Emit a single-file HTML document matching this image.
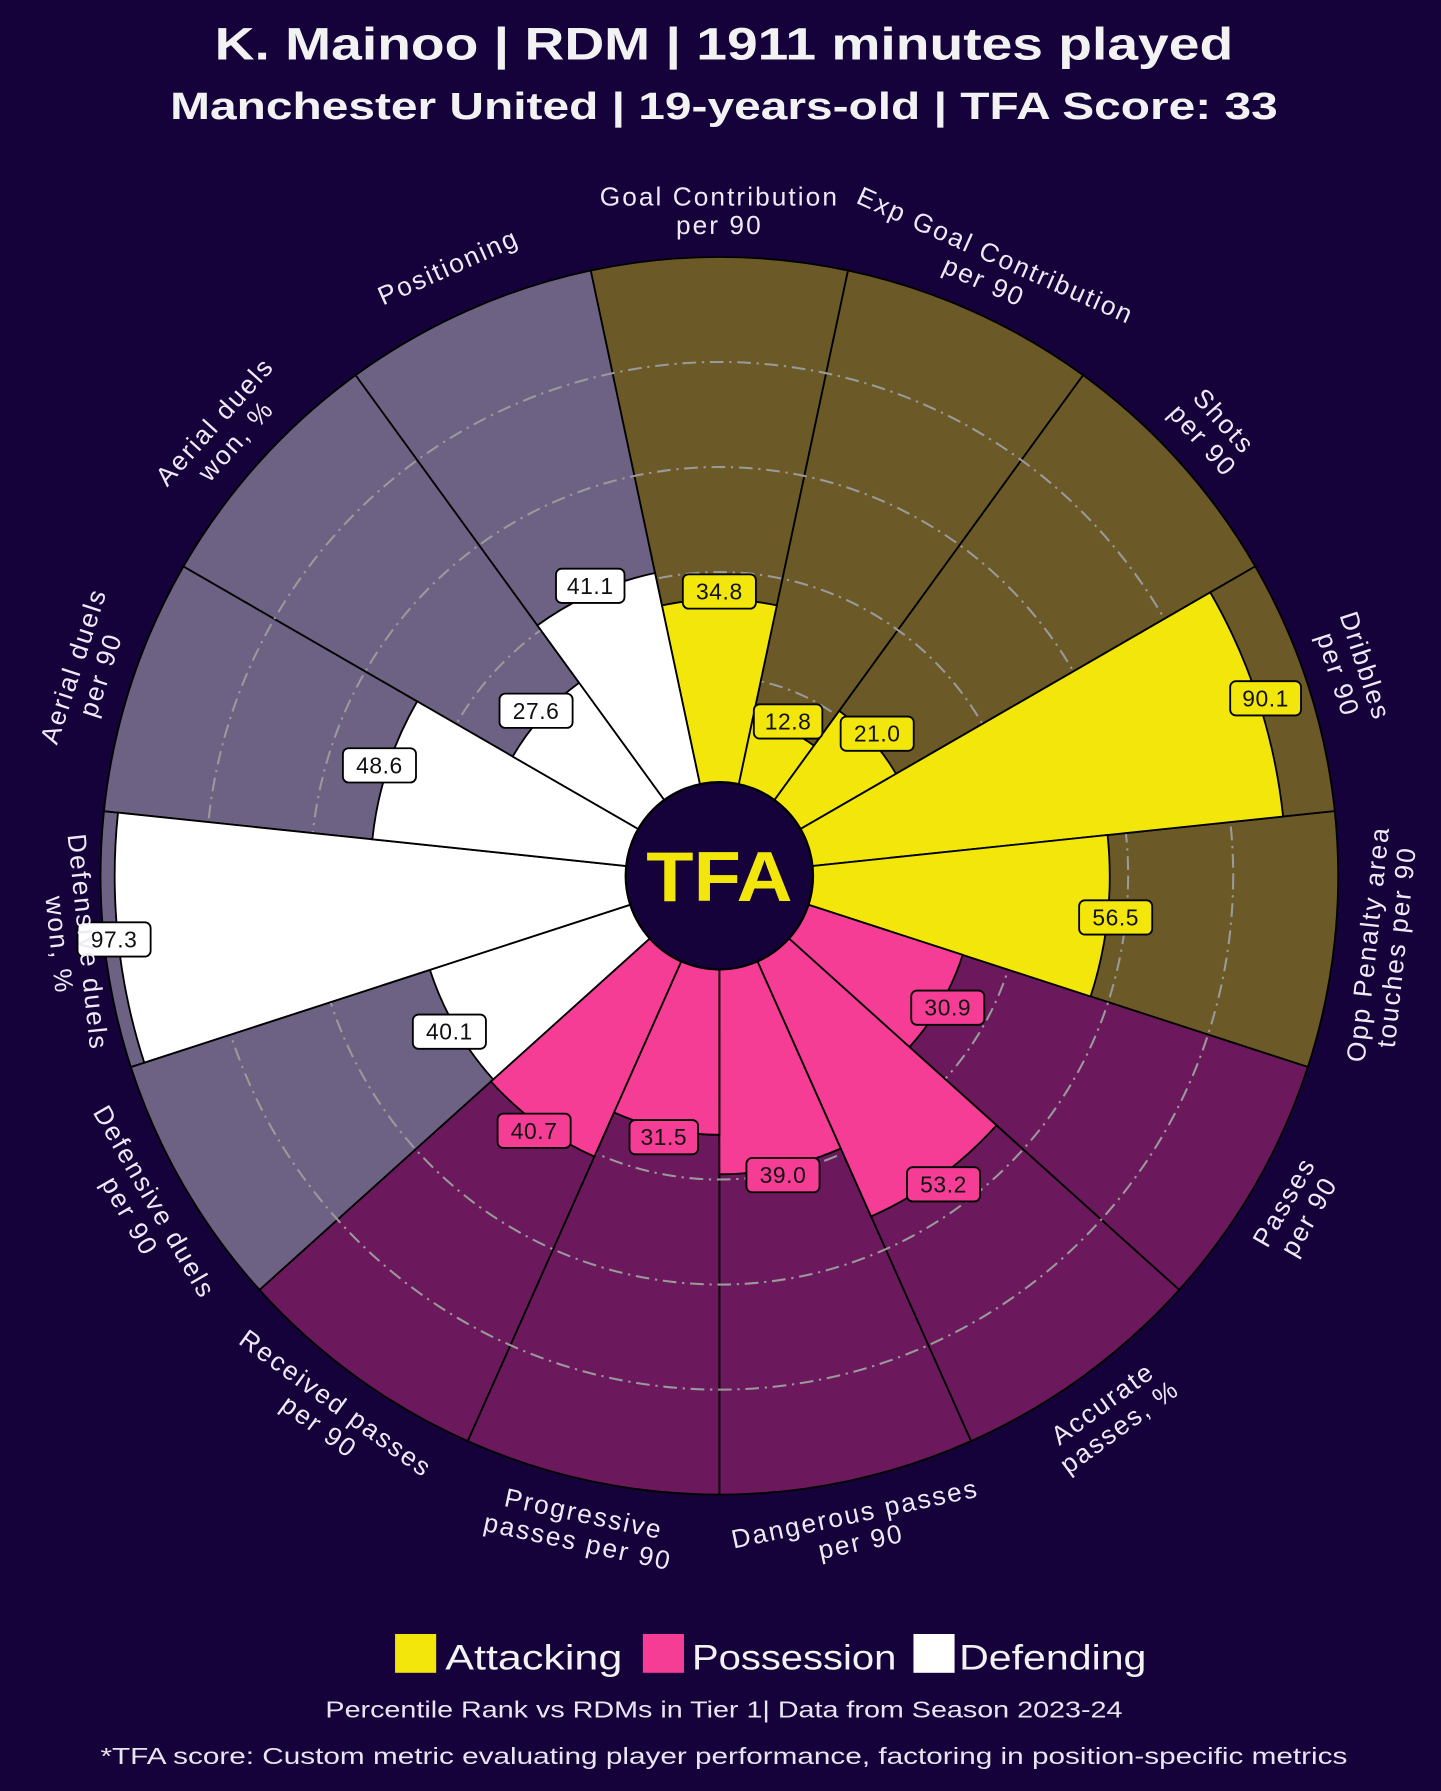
<!DOCTYPE html>
<html><head><meta charset="utf-8"><style>
html,body{margin:0;padding:0;background:#16023b;}
svg{display:block;}
text{font-family:"Liberation Sans",sans-serif;}
</style></head><body>
<svg width="1441" height="1791" viewBox="0 0 1262 1568.5" xmlns="http://www.w3.org/2000/svg">
<rect x="0" y="0" width="1262" height="1568.5" fill="#16023b"/>
<text x="634" y="52" text-anchor="middle" font-size="40" font-weight="bold" fill="#f2f2f2" textLength="892" lengthAdjust="spacingAndGlyphs">K. Mainoo | RDM | 1911 minutes played</text>
<text x="634" y="104" text-anchor="middle" font-size="33" font-weight="bold" fill="#f2f2f2" textLength="970" lengthAdjust="spacingAndGlyphs">Manchester United | 19-years-old | TFA Score: 33</text>

<g transform="translate(630,767)">
<g stroke="#000" stroke-width="1.6">
<path d="M0 0 L-112.7 -530.1 A542 542 0 0 1 112.7 -530.1 Z" fill="#6b5a28"/>
<path d="M0 0 L-112.7 -530.1 A542 542 0 0 1 112.7 -530.1 Z" fill="#6b5a28" transform="rotate(24)"/>
<path d="M0 0 L-112.7 -530.1 A542 542 0 0 1 112.7 -530.1 Z" fill="#6b5a28" transform="rotate(48)"/>
<path d="M0 0 L-112.7 -530.1 A542 542 0 0 1 112.7 -530.1 Z" fill="#6b5a28" transform="rotate(72)"/>
<path d="M0 0 L-112.7 -530.1 A542 542 0 0 1 112.7 -530.1 Z" fill="#6b5a28" transform="rotate(96)"/>
<path d="M0 0 L-112.7 -530.1 A542 542 0 0 1 112.7 -530.1 Z" fill="#6b195c" transform="rotate(120)"/>
<path d="M0 0 L-112.7 -530.1 A542 542 0 0 1 112.7 -530.1 Z" fill="#6b195c" transform="rotate(144)"/>
<path d="M0 0 L-112.7 -530.1 A542 542 0 0 1 112.7 -530.1 Z" fill="#6b195c" transform="rotate(168)"/>
<path d="M0 0 L-112.7 -530.1 A542 542 0 0 1 112.7 -530.1 Z" fill="#6b195c" transform="rotate(192)"/>
<path d="M0 0 L-112.7 -530.1 A542 542 0 0 1 112.7 -530.1 Z" fill="#6b195c" transform="rotate(216)"/>
<path d="M0 0 L-112.7 -530.1 A542 542 0 0 1 112.7 -530.1 Z" fill="#6e6284" transform="rotate(240)"/>
<path d="M0 0 L-112.7 -530.1 A542 542 0 0 1 112.7 -530.1 Z" fill="#6e6284" transform="rotate(264)"/>
<path d="M0 0 L-112.7 -530.1 A542 542 0 0 1 112.7 -530.1 Z" fill="#6e6284" transform="rotate(288)"/>
<path d="M0 0 L-112.7 -530.1 A542 542 0 0 1 112.7 -530.1 Z" fill="#6e6284" transform="rotate(312)"/>
<path d="M0 0 L-112.7 -530.1 A542 542 0 0 1 112.7 -530.1 Z" fill="#6e6284" transform="rotate(336)"/>
</g>
<g fill="none" stroke="#9a9a9a" stroke-width="1.8" stroke-dasharray="12,5,2,5">
<circle r="174"/><circle r="266"/><circle r="358"/><circle r="450"/>
</g>
<g stroke="#000" stroke-width="1.6">
<path d="M0 0 L-50.3 -236.8 A242.1 242.1 0 0 1 50.3 -236.8 Z" fill="#f2e60a"/>
<path d="M0 0 L-29.3 -137.8 A140.9 140.9 0 0 1 29.3 -137.8 Z" fill="#f2e60a" transform="rotate(24)"/>
<path d="M0 0 L-37.1 -174.7 A178.6 178.6 0 0 1 37.1 -174.7 Z" fill="#f2e60a" transform="rotate(48)"/>
<path d="M0 0 L-103.2 -485.6 A496.5 496.5 0 0 1 103.2 -485.6 Z" fill="#f2e60a" transform="rotate(72)"/>
<path d="M0 0 L-71.1 -334.4 A341.9 341.9 0 0 1 71.1 -334.4 Z" fill="#f2e60a" transform="rotate(96)"/>
<path d="M0 0 L-46.6 -219.2 A224.1 224.1 0 0 1 46.6 -219.2 Z" fill="#f53d96" transform="rotate(120)"/>
<path d="M0 0 L-67.9 -319.5 A326.7 326.7 0 0 1 67.9 -319.5 Z" fill="#f53d96" transform="rotate(144)"/>
<path d="M0 0 L-54.3 -255.7 A261.4 261.4 0 0 1 54.3 -255.7 Z" fill="#f53d96" transform="rotate(168)"/>
<path d="M0 0 L-47.2 -221.9 A226.9 226.9 0 0 1 47.2 -221.9 Z" fill="#f53d96" transform="rotate(192)"/>
<path d="M0 0 L-56.0 -263.3 A269.2 269.2 0 0 1 56.0 -263.3 Z" fill="#f53d96" transform="rotate(216)"/>
<path d="M0 0 L-55.4 -260.7 A266.5 266.5 0 0 1 55.4 -260.7 Z" fill="#ffffff" transform="rotate(240)"/>
<path d="M0 0 L-110.1 -518.0 A529.6 529.6 0 0 1 110.1 -518.0 Z" fill="#ffffff" transform="rotate(264)"/>
<path d="M0 0 L-63.5 -298.9 A305.6 305.6 0 0 1 63.5 -298.9 Z" fill="#ffffff" transform="rotate(288)"/>
<path d="M0 0 L-43.5 -204.4 A209.0 209.0 0 0 1 43.5 -204.4 Z" fill="#ffffff" transform="rotate(312)"/>
<path d="M0 0 L-56.4 -265.2 A271.1 271.1 0 0 1 56.4 -265.2 Z" fill="#ffffff" transform="rotate(336)"/>
</g>
<circle r="82" fill="#16023b" stroke="#000" stroke-width="2"/>
<text x="0" y="22" text-anchor="middle" font-size="62" font-weight="bold" fill="#f2e60a" textLength="128" lengthAdjust="spacingAndGlyphs">TFA</text>

<g font-size="20" text-anchor="middle" letter-spacing="0.5">
<g transform="rotate(0) translate(0,-249) rotate(0)"><rect x="-32" y="-15" width="64" height="30" rx="5" fill="#f2e60a" stroke="#000" stroke-width="1.6"/><text y="7" fill="#111">34.8</text></g>
<g transform="rotate(24) translate(0,-148) rotate(-24)"><rect x="-30" y="-15" width="60" height="30" rx="5" fill="#f2e60a" stroke="#000" stroke-width="1.6"/><text y="7" fill="#111">12.8</text></g>
<g transform="rotate(48) translate(0,-186) rotate(-48)"><rect x="-32" y="-15" width="64" height="30" rx="5" fill="#f2e60a" stroke="#000" stroke-width="1.6"/><text y="7" fill="#111">21.0</text></g>
<g transform="rotate(72) translate(0,-503) rotate(-72)"><rect x="-31" y="-15" width="62" height="30" rx="5" fill="#f2e60a" stroke="#000" stroke-width="1.6"/><text y="7" fill="#111">90.1</text></g>
<g transform="rotate(96) translate(0,-349) rotate(-96)"><rect x="-32" y="-15" width="64" height="30" rx="5" fill="#f2e60a" stroke="#000" stroke-width="1.6"/><text y="7" fill="#111">56.5</text></g>
<g transform="rotate(120) translate(0,-231) rotate(-120)"><rect x="-32" y="-15" width="64" height="30" rx="5" fill="#f53d96" stroke="#000" stroke-width="1.6"/><text y="7" fill="#111">30.9</text></g>
<g transform="rotate(144) translate(0,-334) rotate(-144)"><rect x="-32" y="-15" width="64" height="30" rx="5" fill="#f53d96" stroke="#000" stroke-width="1.6"/><text y="7" fill="#111">53.2</text></g>
<g transform="rotate(168) translate(0,-268) rotate(-168)"><rect x="-32" y="-15" width="64" height="30" rx="5" fill="#f53d96" stroke="#000" stroke-width="1.6"/><text y="7" fill="#111">39.0</text></g>
<g transform="rotate(192) translate(0,-234) rotate(-192)"><rect x="-30" y="-15" width="60" height="30" rx="5" fill="#f53d96" stroke="#000" stroke-width="1.6"/><text y="7" fill="#111">31.5</text></g>
<g transform="rotate(216) translate(0,-276) rotate(-216)"><rect x="-32" y="-15" width="64" height="30" rx="5" fill="#f53d96" stroke="#000" stroke-width="1.6"/><text y="7" fill="#111">40.7</text></g>
<g transform="rotate(240) translate(0,-273) rotate(-240)"><rect x="-32" y="-15" width="64" height="30" rx="5" fill="#ffffff" stroke="#000" stroke-width="1.6"/><text y="7" fill="#111">40.1</text></g>
<g transform="rotate(264) translate(0,-533) rotate(-264)"><rect x="-32" y="-15" width="64" height="30" rx="5" fill="#ffffff" stroke="#000" stroke-width="1.6"/><text y="7" fill="#111">97.3</text></g>
<g transform="rotate(288) translate(0,-313) rotate(-288)"><rect x="-32" y="-15" width="64" height="30" rx="5" fill="#ffffff" stroke="#000" stroke-width="1.6"/><text y="7" fill="#111">48.6</text></g>
<g transform="rotate(312) translate(0,-216) rotate(-312)"><rect x="-32" y="-15" width="64" height="30" rx="5" fill="#ffffff" stroke="#000" stroke-width="1.6"/><text y="7" fill="#111">27.6</text></g>
<g transform="rotate(336) translate(0,-278) rotate(-336)"><rect x="-30" y="-15" width="60" height="30" rx="5" fill="#ffffff" stroke="#000" stroke-width="1.6"/><text y="7" fill="#111">41.1</text></g>
</g>

<g font-size="23" text-anchor="middle" fill="#eeeaf5" letter-spacing="1.8">
<g transform="rotate(0) translate(0,-583)"><text y="-4">Goal Contribution</text><text y="21">per 90</text></g>
<g transform="rotate(24) translate(0,-583)"><text y="-4">Exp Goal Contribution</text><text y="21">per 90</text></g>
<g transform="rotate(48) translate(0,-583)"><text y="-4">Shots</text><text y="21">per 90</text></g>
<g transform="rotate(72) translate(0,-583)"><text y="-4">Dribbles</text><text y="21">per 90</text></g>
<g transform="rotate(96) translate(0,-583) rotate(180)"><text y="-4">Opp Penalty area</text><text y="21">touches per 90</text></g>
<g transform="rotate(120) translate(0,-583) rotate(180)"><text y="-4">Passes</text><text y="21">per 90</text></g>
<g transform="rotate(144) translate(0,-583) rotate(180)"><text y="-4">Accurate</text><text y="21">passes, %</text></g>
<g transform="rotate(168) translate(0,-583) rotate(180)"><text y="-4">Dangerous passes</text><text y="21">per 90</text></g>
<g transform="rotate(192) translate(0,-583) rotate(180)"><text y="-4">Progressive</text><text y="21">passes per 90</text></g>
<g transform="rotate(216) translate(0,-583) rotate(180)"><text y="-4">Received passes</text><text y="21">per 90</text></g>
<g transform="rotate(240) translate(0,-583) rotate(180)"><text y="-4">Defensive duels</text><text y="21">per 90</text></g>
<g transform="rotate(264) translate(0,-568) rotate(180)"><text y="-4">Defensive duels</text><text y="21">won, %</text></g>
<g transform="rotate(288) translate(0,-583)"><text y="-4">Aerial duels</text><text y="21">per 90</text></g>
<g transform="rotate(312) translate(0,-583)"><text y="-4">Aerial duels</text><text y="21">won, %</text></g>
<g transform="rotate(336) translate(0,-583)"><text y="7">Positioning</text></g>
</g>
</g>

<rect x="346" y="1431" width="36" height="34" fill="#f2e60a"/>
<text x="390" y="1462" font-size="31" fill="#f2f2f2" textLength="155" lengthAdjust="spacingAndGlyphs">Attacking</text>
<rect x="563" y="1431" width="36" height="34" fill="#f53d96"/>
<text x="606" y="1462" font-size="31" fill="#f2f2f2" textLength="179" lengthAdjust="spacingAndGlyphs">Possession</text>
<rect x="800" y="1431" width="36" height="34" fill="#ffffff"/>
<text x="840" y="1462" font-size="31" fill="#f2f2f2" textLength="164" lengthAdjust="spacingAndGlyphs">Defending</text>
<text x="634" y="1504" text-anchor="middle" font-size="20" fill="#e8e4f0" textLength="698" lengthAdjust="spacingAndGlyphs">Percentile Rank vs RDMs in Tier 1| Data from Season 2023-24</text>
<text x="634" y="1545" text-anchor="middle" font-size="20" fill="#e8e4f0" textLength="1092" lengthAdjust="spacingAndGlyphs">*TFA score: Custom metric evaluating player performance, factoring in position-specific metrics</text>
</svg>
</body></html>
